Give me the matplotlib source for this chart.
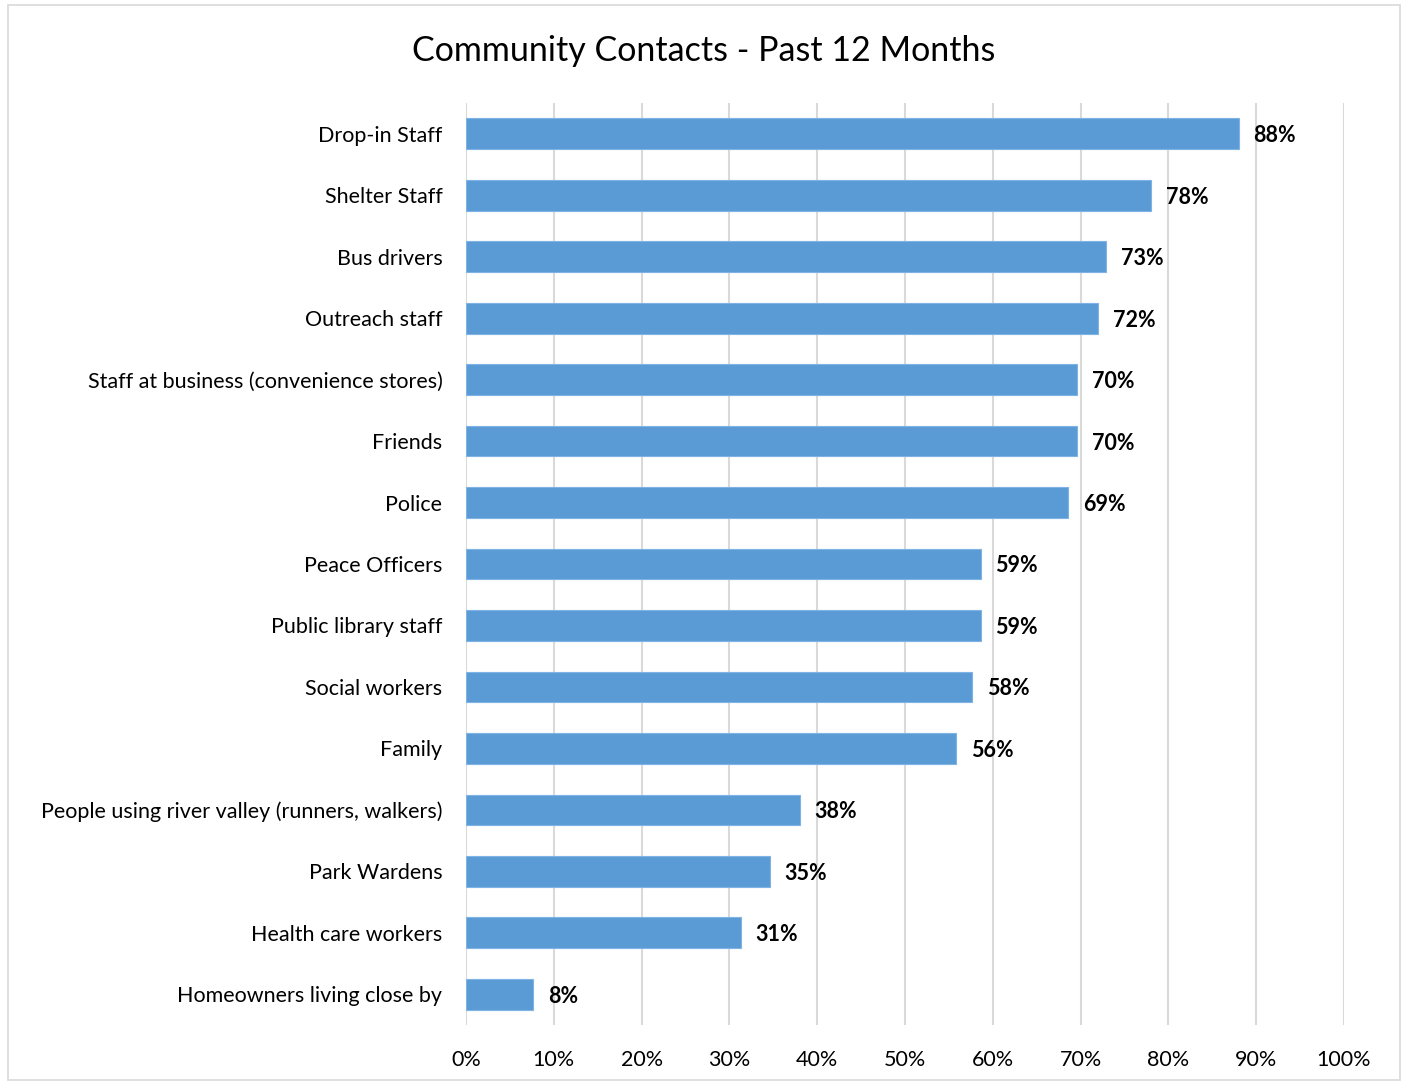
import matplotlib.pyplot as plt
from matplotlib.patches import Rectangle
from matplotlib.ticker import FuncFormatter

plt.rcParams['font.family'] = ['Lato', 'DejaVu Sans']

categories = [
    "Drop-in Staff",
    "Shelter Staff",
    "Bus drivers",
    "Outreach staff",
    "Staff at business (convenience stores)",
    "Friends",
    "Police",
    "Peace Officers",
    "Public library staff",
    "Social workers",
    "Family",
    "People using river valley (runners, walkers)",
    "Park Wardens",
    "Health care workers",
    "Homeowners living close by",
]
shares = [0.880, 0.780, 0.729, 0.720, 0.696, 0.696, 0.686, 0.586, 0.586,
          0.576, 0.558, 0.380, 0.346, 0.313, 0.076]
x_ticks = [i / 10 for i in range(11)]

bar_color = "#5B9BD5"
grid_color = "#D9D9D9"

fig = plt.figure(figsize=(14.03, 10.82), dpi=100)
ax = fig.add_axes([466 / 1403, 1 - 1025 / 1082, (1344 - 466) / 1403, (1025 - 103) / 1082])

# Outer chart border
fig.patches.append(Rectangle((8 / 1403, 1 - 1080 / 1082), (1400 - 8) / 1403, (1080 - 5) / 1082,
                             transform=fig.transFigure, fill=False,
                             edgecolor=grid_color, linewidth=1.2))

y = list(range(len(categories)))
ax.barh(y, shares, height=0.5, color=bar_color, edgecolor="#7FB2E5", linewidth=0.8, zorder=3)

for yi, v in zip(y, shares):
    ax.text(v + 0.017, yi, f"{round(v * 100):d}%", va="center_baseline", ha="left",
            fontsize=15.5, fontweight="bold", color="black")

ax.set_xlim(0, 1.0)
ax.set_ylim(len(categories) - 0.5, -0.5)
ax.set_xticks(x_ticks)
ax.xaxis.set_major_formatter(FuncFormatter(lambda v, p: f"{round(v * 100):d}%"))
ax.set_yticks(y)
ax.set_yticklabels(categories)
ax.tick_params(axis="both", length=0, labelsize=15.5, colors="black")
ax.tick_params(axis="y", pad=17)
ax.tick_params(axis="x", pad=18)

ax.grid(axis="x", color=grid_color, linewidth=1.5, zorder=0)
for s in ax.spines.values():
    s.set_visible(False)

fig.text(704 / 1403, 1 - 51 / 1082, "Community Contacts - Past 12 Months",
         ha="center", va="center", fontsize=24.5, color="black")

fig.savefig("out.png", dpi=100)
